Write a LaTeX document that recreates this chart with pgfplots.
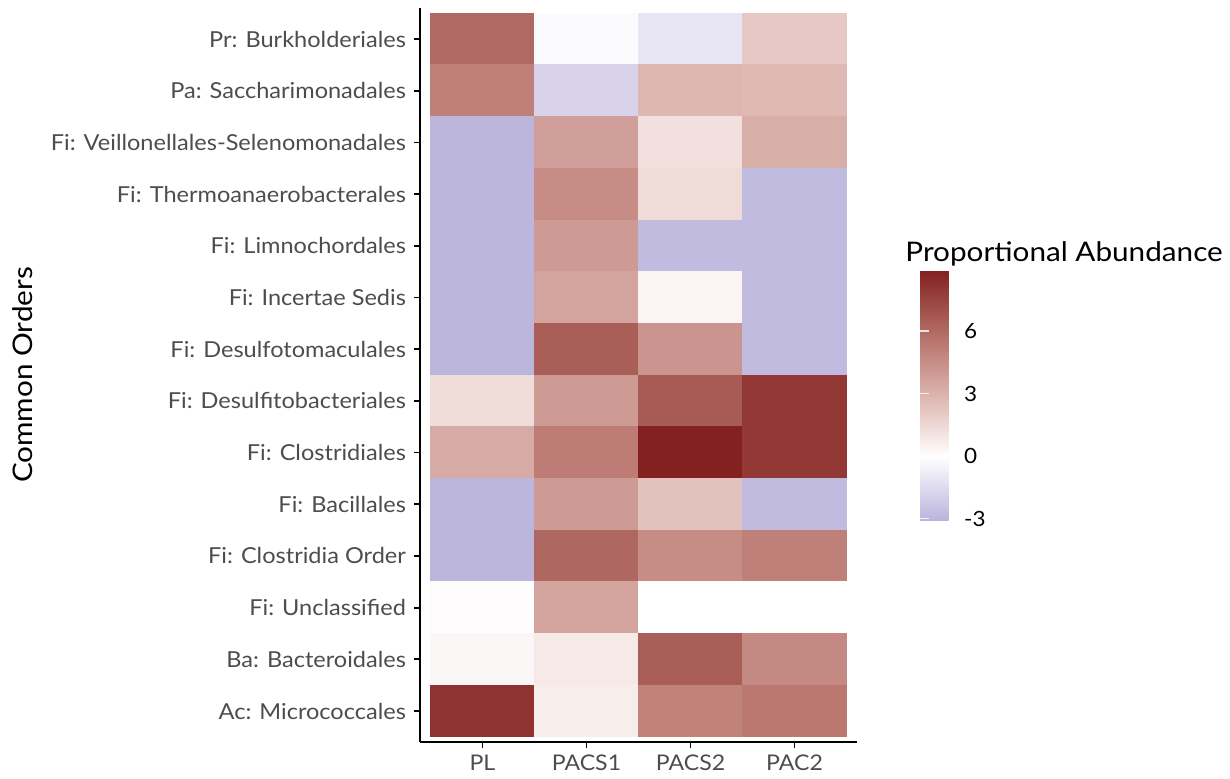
\documentclass[border=0pt]{standalone}
\usepackage{fontspec}
\setmainfont{Lato}
\newfontfamily\widefont{Lato}[FakeStretch=1.07]
\newfontfamily\titlefont{Lato}[FakeStretch=1.1]
\usepackage{pgfplots}
\pgfplotsset{compat=1.18}
\usepackage{pgfplotstable}
\definecolor{ticktext}{RGB}{77,77,77}

\pgfplotstableread{
x y c
1 1 6.0
2 1 -0.2
3 1 -1.1
4 1 2.1
1 2 5.1
2 2 -1.8
3 2 2.8
4 2 2.7
1 3 -3.0
2 3 3.8
3 3 1.2
4 3 3.2
1 4 -3.0
2 4 4.6
3 4 1.4
4 4 -2.8
1 5 -3.0
2 5 4.0
3 5 -2.8
4 5 -2.8
1 6 -3.0
2 6 3.6
3 6 0.4
4 6 -2.8
1 7 -3.0
2 7 6.5
3 7 4.2
4 7 -2.8
1 8 1.3
2 8 4.0
3 8 6.6
4 8 8.0
1 9 3.3
2 9 5.2
3 9 8.93
4 9 8.0
1 10 -3.0
2 10 4.0
3 10 2.4
4 10 -2.8
1 11 -3.0
2 11 6.1
3 11 4.6
4 11 5.1
1 12 0.1
2 12 3.6
3 12 0.0
4 12 0.0
1 13 0.3
2 13 0.8
3 13 6.5
4 13 4.7
1 14 8.2
2 14 0.7
3 14 5.0
4 14 5.4
}\heat

\begin{document}
\begin{tikzpicture}
\path[use as bounding box] (0,0) rectangle (615pt,389pt);
\begin{axis}[
  at={(210pt,18pt)}, anchor=south west,
  scale only axis, width=218.5pt, height=367pt,
  xmin=0.4, xmax=4.6, ymin=0.4, ymax=14.6,
  y dir=reverse,
  axis x line*=bottom, axis y line*=left,
  axis line style={black, line width=1pt, -},
  xtick={1,2,3,4},
  xticklabels={PL,PACS1,PACS2,PAC2},
  ytick={1,...,14},
  yticklabels={Pr: Burkholderiales,Pa: Saccharimonadales,Fi: Veillonellales-Selenomonadales,Fi: Thermoanaerobacterales,Fi: Limnochordales,Fi: Incertae Sedis,Fi: Desulfotomaculales,Fi: Desulfitobacteriales,Fi: Clostridiales,Fi: Bacillales,Fi: Clostridia Order,Fi: Unclassified,Ba: Bacteroidales,Ac: Micrococcales},
  tick align=outside, major tick length=3pt,
  tick style={black, line width=0.9pt},
  xticklabel style={font=\widefont\fontsize{10.8}{12}\selectfont, text=ticktext},
  yticklabel style={font=\widefont\fontsize{11}{12}\selectfont, text=ticktext, xshift=-0.5pt},
  ylabel={Common Orders},
  ylabel style={at={(axis description cs:-0.8856,0.5)}, anchor=base, font=\titlefont\fontsize{13.5}{15}\selectfont, text=black},
  colormap={abund}{rgb255(0cm)=(186,180,220) rgb255(1.54cm)=(222,218,238) rgb255(3.07cm)=(255,255,255) rgb255(5.30cm)=(229,197,192) rgb255(7.54cm)=(200,143,136) rgb255(9.77cm)=(166,89,82) rgb255(12cm)=(131,32,32)},
  point meta min=-3.07, point meta max=8.93,
  colorbar,
  colorbar style={
    at={(parent axis.south east)}, anchor=south west,
    xshift=23pt, yshift=111pt,
    scale only axis, width=24.5pt, height=125pt,
    ytick={-3,0,3,6},
    ytick pos=both,
    yticklabel pos=right,
    tick align=inside, major tick length=4.5pt,
    ytick style={draw=white, line width=0.7pt, opacity=0.8},
    axis line style={draw=none},
    /pgf/number format/assume math mode=true,
    yticklabel style={font=\widefont\fontsize{10.5}{12}\selectfont, text=black, xshift=-6pt},
  },
  clip=false,
]
\addplot[matrix plot*, mesh/cols=4, point meta=explicit] table[x=x, y=y, meta=c] {\heat};
\node[anchor=base west, inner sep=0pt, font=\titlefont\fontsize{13.5}{15}\selectfont] at (axis description cs:1.110,0.654) {Proportional Abundance};
\end{axis}
\end{tikzpicture}
\end{document}
